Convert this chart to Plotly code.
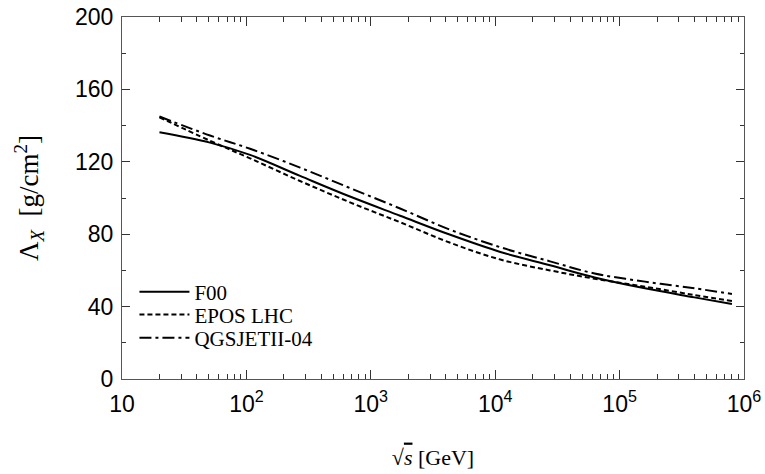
import plotly.graph_objects as go

# sqrt(s) in GeV
sqrt_s = [20, 51, 107, 270, 680, 1720, 4300, 11000, 27600, 63000, 160000, 400000, 800000]

f00 = [136.3, 130.6, 123.8, 112.2, 100.8, 90.2, 79.8, 70.2, 62.8, 56.1, 50.1, 45.1, 41.4]
epos_lhc = [144.6, 131.6, 121.9, 109.4, 97.6, 86.6, 75.4, 66.0, 60.0, 55.4, 51.0, 46.4, 43.1]
qgsjet = [145.0, 134.5, 127.2, 116.8, 105.5, 94.2, 82.6, 72.8, 65.0, 58.3, 53.8, 50.1, 47.0]

series_names = ["F00", "EPOS LHC", "QGSJETII-04"]
series_values = [f00, epos_lhc, qgsjet]
series_dash = ["solid", "5px,3px", "12px,4px,3px,4px"]
legend_ids = ["legend", "legend2", "legend3"]

x_tickvals = [10, 100, 1000, 10000, 100000, 1000000]
x_ticktext = ["10", "10<sup>2</sup>", "10<sup>3</sup>", "10<sup>4</sup>", "10<sup>5</sup>", "10<sup>6</sup>"]
y_tickvals = [0, 40, 80, 120, 160, 200]

minor_x = [m * 10 ** e for e in range(1, 6) for m in range(2, 10)]

fig = go.Figure()
for name, vals, dash, lg in zip(series_names, series_values, series_dash, legend_ids):
    fig.add_trace(go.Scatter(
        x=sqrt_s, y=vals, mode="lines", name=name, legend=lg,
        line=dict(color="black", width=2, dash=dash, shape="spline", smoothing=1.0),
    ))

axis_common = dict(
    showgrid=False, zeroline=False, showline=True, linecolor="#555555", linewidth=1.2,
    mirror="allticks", ticks="inside", tickcolor="#333333", tickwidth=1,
    automargin=False,
    tickfont=dict(family="Liberation Sans, Arial, sans-serif", size=23, color="black"),
)

fig.update_xaxes(
    type="log", range=[1, 6], tickvals=x_tickvals, ticktext=x_ticktext, ticklen=9,
    ticklabelstandoff=4,
    minor=dict(ticks="inside", ticklen=5, tickvals=minor_x, tickcolor="#333333", showgrid=False),
    title=dict(text="√<span style='text-decoration:overline'><i>s</i></span> [GeV]",
               font=dict(family="Liberation Serif, DejaVu Serif, serif", size=22, color="black"),
               standoff=33),
    **axis_common,
)
fig.update_yaxes(
    range=[0, 200], tickvals=y_tickvals, ticklen=8, ticklabelstandoff=3,
    minor=dict(ticks="inside", ticklen=4, dtick=20, tickcolor="#333333", showgrid=False),
    title=dict(text="Λ<sub><i>X</i></sub>  [g/cm<sup>2</sup>]",
               font=dict(family="Liberation Serif, DejaVu Serif, serif", size=27, color="black"),
               standoff=28),
    **axis_common,
)

legend_style = dict(
    x=0.02, xanchor="left", yanchor="middle",
    bgcolor="rgba(0,0,0,0)", borderwidth=0,
    font=dict(family="Liberation Serif, DejaVu Serif, serif", size=21, color="black"),
    itemwidth=50,
)
legend_y = [0.240, 0.177, 0.113]

fig.update_layout(
    width=765, height=474,
    margin=dict(l=122, r=21, t=17, b=95, autoexpand=False),
    paper_bgcolor="white", plot_bgcolor="white",
    showlegend=True,
    legend=dict(y=legend_y[0], **legend_style),
    legend2=dict(y=legend_y[1], **legend_style),
    legend3=dict(y=legend_y[2], **legend_style),
)

fig.write_html("out.html")
